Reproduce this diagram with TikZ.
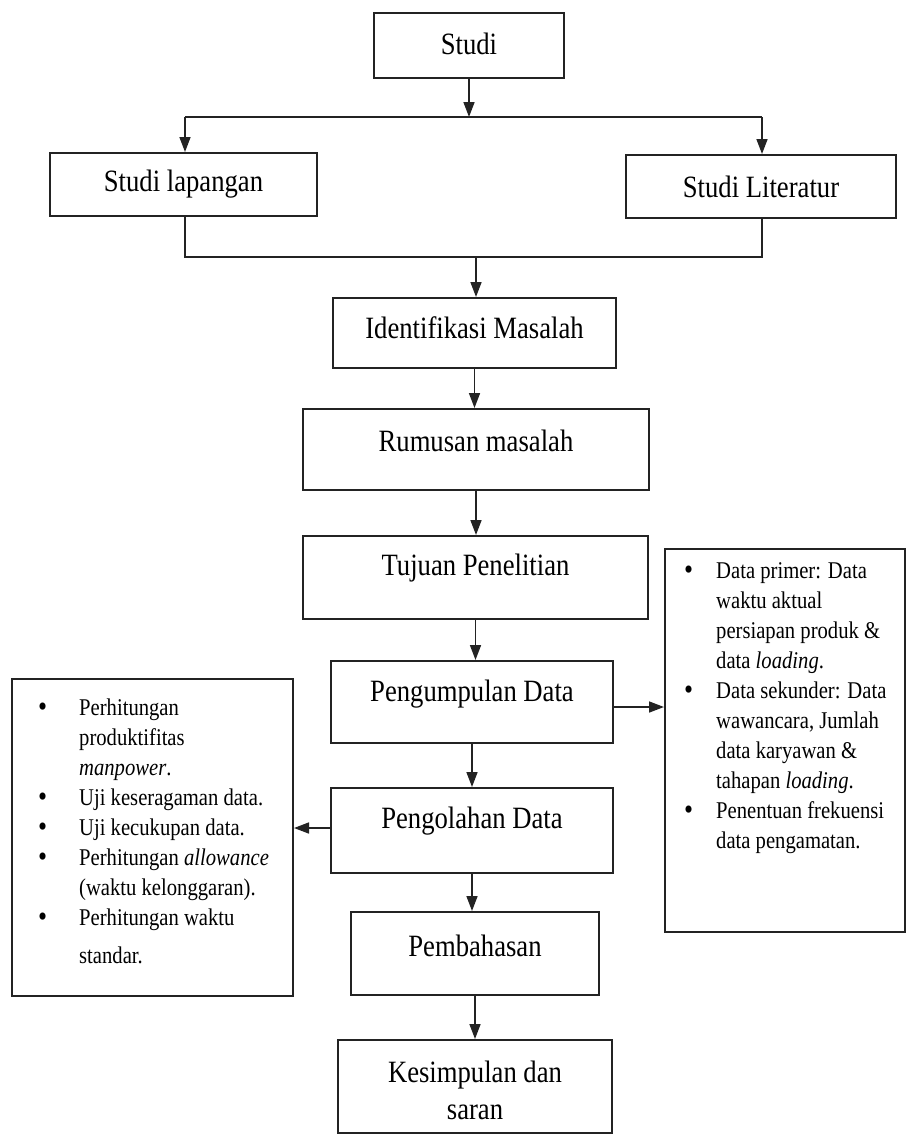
\documentclass[tikz,border=0pt]{standalone}
\usepackage{fontspec}
\setmainfont{Liberation Serif}[FakeStretch=0.86]
\usetikzlibrary{arrows.meta}
\definecolor{lc}{RGB}{35,35,35}
\newcommand{\bigbul}{\smash{\raisebox{-1.5pt}{\fontsize{30}{30}\selectfont\textbullet}}}
\tikzset{
  box/.style={draw=lc, line width=2pt, inner sep=0pt, fill=white},
  lbl/.style={font=\fontsize{31}{37}\selectfont, text=black, align=center, inner sep=0pt},
  arr/.style={draw=lc, line width=1.6pt, -{Triangle[length=15pt,width=11pt]}},
  conn/.style={draw=lc, line width=1.6pt},
  lst/.style={font=\fontsize{24}{30}\selectfont, inner sep=0pt, anchor=north west, align=left, text=black}
}
\begin{document}
\begin{tikzpicture}[x=1pt,y=1pt]
\fill[white] (0,0) rectangle (907,-1135);
\useasboundingbox (0,0) rectangle (907,-1135);

% main boxes
\node[box, minimum width=190pt, minimum height=65pt, label={[lbl,yshift=2pt]center:Studi}] (studi) at (469,-45.5) {};
\node[box, minimum width=267pt, minimum height=63pt, label={[lbl,yshift=0pt]center:Studi lapangan}] (lap) at (183.5,-184.5) {};
\node[box, minimum width=270pt, minimum height=63pt, label={[lbl,yshift=0pt]center:Studi Literatur}] (lit) at (761,-186.5) {};
\node[box, minimum width=283pt, minimum height=70pt, label={[lbl,yshift=5pt]center:Identifikasi Masalah}] (ident) at (474.5,-333) {};
\node[box, minimum width=346pt, minimum height=81pt, label={[lbl,yshift=9pt]center:Rumusan masalah}] (rumus) at (476,-449.5) {};
\node[box, minimum width=345pt, minimum height=83pt, label={[lbl,yshift=9pt]center:Tujuan Penelitian}] (tujuan) at (475.5,-577.5) {};
\node[box, minimum width=282pt, minimum height=82pt, label={[lbl,yshift=8pt]center:Pengumpulan Data}] (kumpul) at (472,-702) {};
\node[box, minimum width=282pt, minimum height=85pt, label={[lbl,yshift=9pt]center:Pengolahan Data}] (olah) at (472,-830.5) {};
\node[box, minimum width=248pt, minimum height=83pt, label={[lbl,yshift=8pt]center:Pembahasan}] (bahas) at (475,-953.5) {};
\node[box, minimum width=274pt, minimum height=93pt, label={[lbl,yshift=-4pt]center:Kesimpulan dan\\saran}] (simpul) at (475,-1086.5) {};

% side boxes
\node[box, minimum width=281pt, minimum height=317pt] (leftbox) at (152.5,-837.5) {};
\node[box, minimum width=240pt, minimum height=383pt] (rightbox) at (785,-740.5) {};

\node[lst] (leftlist) at (38,-694) {%
\begin{tabular}{@{}p{41pt}@{}l@{}}
\bigbul & Perhitungan\\
 & produktifitas\\
 & \textit{manpower}.\\
\bigbul & Uji keseragaman data.\\
\bigbul & Uji kecukupan data.\\
\bigbul & Perhitungan \textit{allowance}\\
 & (waktu kelonggaran).\\
\bigbul & Perhitungan waktu\\[8pt]
 & standar.
\end{tabular}};

\node[lst] (rightlist) at (684,-557) {%
\begin{tabular}{@{}p{32pt}@{}l@{}}
\bigbul & Data primer: Data\\
 & waktu aktual\\
 & persiapan produk \&\\
 & data \textit{loading}.\\
\bigbul & Data sekunder: Data\\
 & wawancara, Jumlah\\
 & data karyawan \&\\
 & tahapan \textit{loading}.\\
\bigbul & Penentuan frekuensi\\
 & data pengamatan.
\end{tabular}};

% connectors
\coordinate (split) at (469,-117);
\coordinate (sl) at (185,-117);
\coordinate (sr) at (762,-117);
\coordinate (ml) at (185,-257);
\coordinate (mr) at (762,-257);
\coordinate (mm) at (476,-257);

\draw[arr] (studi.south) -- (split);
\draw[conn] (sl) -- (sr);
\draw[arr] (sl) -- (sl |- lap.north);
\draw[arr] (sr) -- (sr |- lit.north);
\draw[conn] (ml |- lap.south) -- (ml) -- (mr) -- (mr |- lit.south);
\draw[arr] (mm) -- (mm |- ident.north);
\draw[arr] (ident.south) -- (ident.south |- rumus.north);
\draw[arr] (rumus.south) -- (rumus.south |- tujuan.north);
\draw[arr] (tujuan.south) -- (tujuan.south |- kumpul.north);
\draw[arr] (kumpul.south) -- (kumpul.south |- olah.north);
\draw[arr] (olah.south) -- (olah.south |- bahas.north);
\draw[arr] (bahas.south) -- (bahas.south |- simpul.north);
\draw[arr] ([yshift=-5pt]kumpul.east) -- ([yshift=-5pt]kumpul.east -| rightbox.west);
\draw[arr] ([yshift=2.5pt]olah.west) -- ([yshift=2.5pt]olah.west -| leftbox.east);
\end{tikzpicture}
\end{document}
